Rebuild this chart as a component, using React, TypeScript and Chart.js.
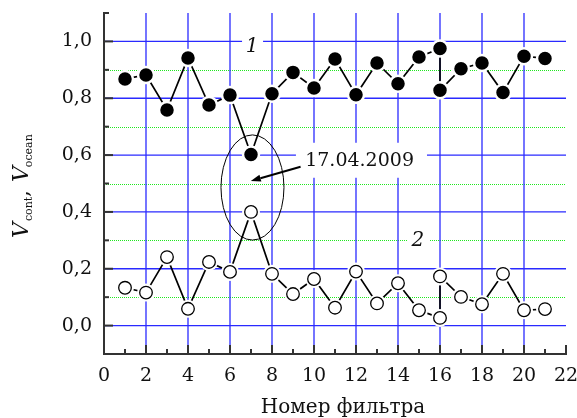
import React, { useEffect, useRef } from 'react';
import { Chart, registerables } from 'chart.js';

Chart.register(...registerables);

// ---- data ----
const filterNumbers = [1, 2, 3, 4, 5, 6, 7, 8, 9, 10, 11, 12, 13, 14, 15, 16, 16, 17, 18, 19, 20, 21];
const vCont = [0.868, 0.882, 0.759, 0.942, 0.776, 0.811, 0.602, 0.816, 0.891, 0.836, 0.938, 0.812, 0.924, 0.851, 0.945, 0.975, 0.828, 0.904, 0.924, 0.82, 0.948, 0.94];
const vOcean = [0.133, 0.116, 0.241, 0.059, 0.224, 0.189, 0.4, 0.182, 0.111, 0.164, 0.063, 0.19, 0.078, 0.149, 0.054, 0.027, 0.173, 0.101, 0.075, 0.182, 0.054, 0.058];

const xLabelValues = [0, 2, 4, 6, 8, 10, 12, 14, 16, 18, 20, 22];
const yLabelValues = [0, 0.2, 0.4, 0.6, 0.8, 1.0];
const majorGridX = [2, 4, 6, 8, 10, 12, 14, 16, 18, 20];
const majorGridY = [0, 0.2, 0.4, 0.6, 0.8, 1.0];
const minorGridY = [0.1, 0.3, 0.5, 0.7, 0.9];
const minorTickX = [1, 3, 5, 7, 9, 11, 13, 15, 17, 19, 21];
const majorTickX = [2, 4, 6, 8, 10, 12, 14, 16, 18, 20, 22];
const minorTickY = [-0.1, 0.1, 0.3, 0.5, 0.7, 0.9, 1.1];

const xTitle = 'Номер фильтра';
const dateLabel = '17.04.2009';

const SERIF = '"DejaVu Serif", "Liberation Serif", serif';

function pts(ys: number[]) {
  return ys.map((v, i) => ({ x: filterNumbers[i], y: v }));
}

const decoPlugin = {
  id: 'deco',
  beforeDraw(chart: any) {
    const { ctx, chartArea: a, scales } = chart;
    const x = scales.x, y = scales.y;
    ctx.save();
    ctx.fillStyle = '#fff';
    ctx.fillRect(0, 0, chart.width, chart.height);
    // green dotted minor grid
    ctx.strokeStyle = '#1ee81e';
    ctx.lineWidth = 1;
    ctx.setLineDash([1, 1]);
    for (const v of minorGridY) {
      const py = Math.round(y.getPixelForValue(v)) + 0.5;
      ctx.beginPath(); ctx.moveTo(a.left, py); ctx.lineTo(a.right, py); ctx.stroke();
    }
    ctx.setLineDash([]);
    // blue major grid
    ctx.strokeStyle = '#2a2aff';
    ctx.lineWidth = 1.3;
    for (const v of majorGridY) {
      const py = y.getPixelForValue(v);
      ctx.beginPath(); ctx.moveTo(a.left, py); ctx.lineTo(a.right, py); ctx.stroke();
    }
    for (const v of majorGridX) {
      const px = x.getPixelForValue(v);
      ctx.beginPath(); ctx.moveTo(px, a.top); ctx.lineTo(px, a.bottom); ctx.stroke();
    }
    // inward ticks
    ctx.strokeStyle = '#333';
    ctx.lineWidth = 2;
    for (const v of majorTickX) {
      const px = x.getPixelForValue(v);
      ctx.beginPath(); ctx.moveTo(px, a.bottom); ctx.lineTo(px, a.bottom - 9); ctx.stroke();
    }
    for (const v of minorTickX) {
      const px = x.getPixelForValue(v);
      ctx.beginPath(); ctx.moveTo(px, a.bottom); ctx.lineTo(px, a.bottom - 5); ctx.stroke();
    }
    for (const v of majorGridY) {
      const py = y.getPixelForValue(v);
      ctx.beginPath(); ctx.moveTo(a.left, py); ctx.lineTo(a.left + 9, py); ctx.stroke();
    }
    for (const v of minorTickY) {
      const py = y.getPixelForValue(v);
      ctx.beginPath(); ctx.moveTo(a.left, py); ctx.lineTo(a.left + 5, py); ctx.stroke();
    }
    ctx.restore();
  },
  beforeDatasetsDraw(chart: any) {
    const { ctx, scales } = chart;
    const x = scales.x, y = scales.y;
    ctx.save();
    // label "1"
    const l1x = x.getPixelForValue(7.05), l1y = y.getPixelForValue(0.982);
    ctx.fillStyle = '#fff';
    ctx.fillRect(l1x - 10, l1y - 12, 21, 24);
    // label "2"
    const l2x = x.getPixelForValue(14.95), l2y = y.getPixelForValue(0.3);
    ctx.fillRect(l2x - 10, l2y - 12, 22, 24);
    // date label box
    const dx0 = x.getPixelForValue(9.14), dx1 = x.getPixelForValue(15.38);
    const dyc = y.getPixelForValue(0.58);
    ctx.fillRect(dx0, dyc - 18, dx1 - dx0, 35);
    ctx.fillStyle = '#111';
    ctx.textAlign = 'center';
    ctx.textBaseline = 'middle';
    ctx.font = `italic 20px ${SERIF}`;
    ctx.fillText('1', l1x, l1y);
    ctx.fillText('2', l2x, l2y);
    ctx.font = `19px ${SERIF}`;
    ctx.textAlign = 'left';
    ctx.fillText(dateLabel, x.getPixelForValue(9.58), dyc);
    ctx.restore();
  },
  afterDatasetsDraw(chart: any) {
    const { ctx, scales } = chart;
    const x = scales.x, y = scales.y;
    ctx.save();
    // ellipse
    const ecx = x.getPixelForValue(7.07), ecy = y.getPixelForValue(0.486);
    const erx = x.getPixelForValue(8.57) - ecx, ery = ecy - y.getPixelForValue(0.671);
    ctx.strokeStyle = '#000';
    ctx.lineWidth = 1;
    ctx.beginPath(); ctx.ellipse(ecx, ecy, erx, ery, 0, 0, Math.PI * 2); ctx.stroke();
    // arrow
    const ax0 = x.getPixelForValue(9.36), ay0 = y.getPixelForValue(0.559);
    const ax1 = x.getPixelForValue(6.99), ay1 = y.getPixelForValue(0.509);
    const ang = Math.atan2(ay1 - ay0, ax1 - ax0);
    const hl = 10, hw = 3.5;
    const bx = ax1 - hl * Math.cos(ang), by = ay1 - hl * Math.sin(ang);
    ctx.lineWidth = 2;
    ctx.beginPath(); ctx.moveTo(ax0, ay0); ctx.lineTo(bx, by); ctx.stroke();
    ctx.fillStyle = '#000';
    ctx.beginPath();
    ctx.moveTo(ax1, ay1);
    ctx.lineTo(bx + hw * Math.sin(ang), by - hw * Math.cos(ang));
    ctx.lineTo(bx - hw * Math.sin(ang), by + hw * Math.cos(ang));
    ctx.closePath(); ctx.fill();

    // x title
    ctx.fillStyle = '#111';
    ctx.font = `20px ${SERIF}`;
    ctx.textAlign = 'center';
    ctx.textBaseline = 'alphabetic';
    ctx.fillText(xTitle, 343, 413);

    // y title (rotated, with subscripts)
    ctx.translate(28, 238);
    ctx.rotate(-Math.PI / 2);
    ctx.textAlign = 'left';
    let cx = 0;
    const big = `italic 22px ${SERIF}`;
    const small = `11px ${SERIF}`;
    const reg = `20px ${SERIF}`;
    ctx.font = big; ctx.fillText('V', cx, 0); cx += ctx.measureText('V').width + 1;
    ctx.font = small; ctx.fillText('cont', cx, 4); cx += ctx.measureText('cont').width;
    ctx.font = reg; ctx.fillText(',', cx, 0); cx += ctx.measureText(', ').width + 2;
    ctx.font = big; ctx.fillText('V', cx, 0); cx += ctx.measureText('V').width - 1;
    ctx.font = small; ctx.fillText('ocean', cx, 4);
    ctx.restore();
  },
};

export default function App() {
  const ref = useRef<HTMLCanvasElement | null>(null);
  useEffect(() => {
    if (!ref.current) return;
    const chart = new Chart(ref.current, {
      type: 'scatter',
      data: {
        datasets: [
          {
            label: 'V_ocean circles',
            data: pts(vOcean),
            showLine: false,
            pointRadius: 6.3,
            pointBackgroundColor: '#fff',
            pointBorderColor: '#000',
            pointBorderWidth: 1.3,
            order: 0,
          },
          {
            label: 'V_cont',
            data: pts(vCont),
            showLine: true,
            borderColor: '#000',
            borderWidth: 1.7,
            pointRadius: 8,
            pointBackgroundColor: '#000',
            pointBorderColor: '#fff',
            pointBorderWidth: 2.5,
            order: 1,
          },
          {
            label: 'V_ocean line',
            data: pts(vOcean),
            showLine: true,
            borderColor: '#000',
            borderWidth: 1.7,
            pointRadius: 9,
            pointBackgroundColor: '#fff',
            pointBorderWidth: 0,
            order: 2,
          },
        ],
      },
      options: {
        animation: false,
        responsive: false,
        events: [],
        layout: { padding: { left: 0, right: 11, top: 13, bottom: 0 } },
        plugins: { legend: { display: false }, tooltip: { enabled: false } },
        scales: {
          x: {
            type: 'linear',
            min: 0,
            max: 22,
            grid: { display: false, drawTicks: false, tickLength: 0 },
            border: { display: true, color: '#333', width: 2 },
            ticks: {
              stepSize: 2,
              autoSkip: false,
              maxRotation: 0,
              padding: 11,
              color: '#111',
              font: { family: SERIF, size: 19 },
              callback: (v: any) => (xLabelValues.includes(Number(v)) ? String(v) : ''),
            },
            afterFit: (s: any) => { s.height = 64; s.paddingLeft = 0; s.paddingRight = 0; },
          },
          y: {
            type: 'linear',
            min: -0.1,
            max: 1.1,
            grid: { display: false, drawTicks: false, tickLength: 0 },
            border: { display: true, color: '#333', width: 2 },
            ticks: {
              stepSize: 0.1,
              autoSkip: false,
              padding: 12,
              color: '#111',
              font: { family: SERIF, size: 19 },
              callback: (v: any) => {
                const n = Number(v);
                const hit = yLabelValues.find((t) => Math.abs(t - n) < 1e-6);
                return hit === undefined ? '' : hit.toFixed(1).replace('.', ',');
              },
            },
            afterFit: (s: any) => { s.width = 104; s.paddingTop = 0; s.paddingBottom = 0; },
          },
        },
      },
      plugins: [decoPlugin],
    } as any);
    return () => chart.destroy();
  }, []);
  return (
    <div style={{ position: 'fixed', left: 0, top: 0, width: 577, height: 418, background: '#fff' }}>
      <canvas ref={ref} width={577} height={418} style={{ display: 'block', width: 577, height: 418 }} />
    </div>
  );
}
